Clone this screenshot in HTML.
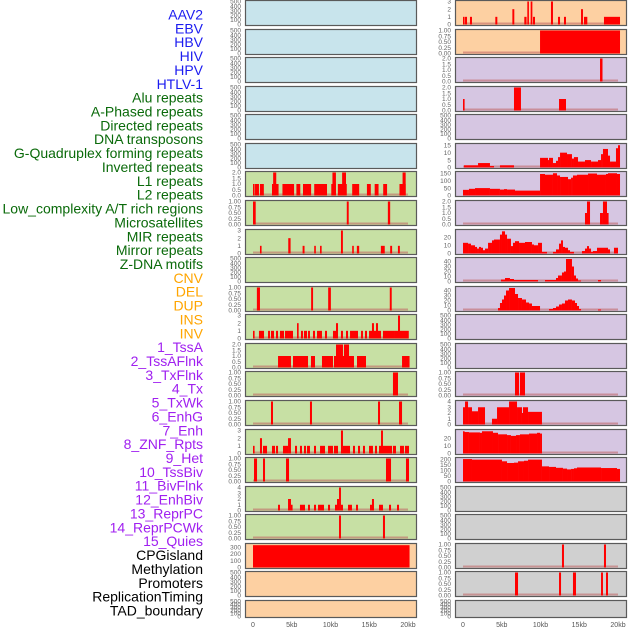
<!DOCTYPE html>
<html><head><meta charset="utf-8">
<style>
html,body{margin:0;padding:0;background:#fff;width:630px;height:630px;overflow:hidden}
svg{display:block;font-family:"Liberation Sans",sans-serif}
</style></head>
<body>
<svg id="chart" width="630" height="630"></svg>
<script>
// ---- data (kb positions, values) ----
const trackLabels=["AAV2","EBV","HBV","HIV","HPV","HTLV-1","Alu repeats","A-Phased repeats","Directed repeats","DNA transposons","G-Quadruplex forming repeats","Inverted repeats","L1 repeats","L2 repeats","Low_complexity A/T rich regions","Microsatellites","MIR repeats","Mirror repeats","Z-DNA motifs","CNV","DEL","DUP","INS","INV","1_TssA","2_TssAFlnk","3_TxFlnk","4_Tx","5_TxWk","6_EnhG","7_Enh","8_ZNF_Rpts","9_Het","10_TssBiv","11_BivFlnk","12_EnhBiv","13_ReprPC","14_ReprPCWk","15_Quies","CPGisland","Methylation","Promoters","ReplicationTiming","TAD_boundary"];
const labelGroups=[6,13,5,15,5];
const xTickValues=[0,5,10,15,20];
const xTickLabels=["0","5kb","10kb","15kb","20kb"];

const L6=[[0,0.15,1],[0.26,0.77,1],[0.9,1.4,1],[2.45,3.3,1],[2.6,3.0,2],[3.8,5.3,1],[5.6,6.1,1],[6.45,7.5,1],[7.9,9.55,1],[10.1,10.7,1],[10.25,10.7,2],[10.95,12.1,1],[11.5,12.0,2],[12.8,13.7,1],[14.7,15.2,1],[15.7,16.2,1],[16.8,17.3,1],[18.9,19.7,1],[19.3,19.7,2]];
const L7=[[0,0.35,1],[12.1,12.35,1],[17.4,17.7,1]];
const L8=[[0.9,1.1,1],[4.55,4.85,2],[6.4,6.65,1],[7.9,8.1,1],[8.65,8.85,1],[11.35,11.6,3],[12.8,13,1],[13.4,13.7,1],[16.5,17,1],[17.7,17.95,1],[18.7,18.95,1]];
const L10=[[0.5,0.9,1],[7.5,7.75,1],[9.7,10.05,1],[17.65,17.9,1]];
const L11=[[0,0.13,1],[0.77,1.42,1],[1.94,2.19,1],[2.32,2.71,1],[2.97,3.23,1],[3.48,4.0,1],[4.13,5.16,1],[5.68,5.89,2],[6.19,6.45,1],[6.58,6.97,1],[7.1,7.35,1],[7.74,8.0,1],[8.26,8.9,1],[9.29,9.55,1],[10.32,10.84,1],[10.71,10.97,2],[11.35,11.61,1],[12.0,12.26,1],[12.52,13.55,1],[13.94,14.19,1],[14.45,14.71,1],[14.97,16.52,1],[15.35,15.61,2],[15.87,16.13,2],[16.77,18.32,1],[18.32,20.1,1],[18.71,18.97,3]];
const L12=[[3.23,4.9,1],[5.16,7.1,1],[7.48,8.0,1],[8.9,10.32,1],[10.45,13.03,1],[10.71,11.61,2],[11.74,12.39,2],[13.42,14.58,1],[19.23,20.2,1]];
const L13=[[18.06,18.71,1]];
const L14=[[2.32,2.58,1],[7.35,7.61,1],[16.13,16.39,1],[18.84,19.23,1]];
const L15=[[0,0.13,1],[0.9,1.16,2],[1.29,1.81,1],[2.45,2.84,1],[2.97,3.23,1],[3.87,4.52,1],[4.52,4.9,2],[5.42,5.68,1],[6.06,6.32,1],[6.58,6.84,1],[6.97,7.35,1],[7.87,8.13,1],[8.65,9.29,1],[9.68,10.32,1],[10.45,10.97,1],[11.35,11.61,3],[11.61,12.52,1],[12.9,13.16,1],[13.55,13.81,1],[14.19,14.45,1],[14.97,15.48,1],[15.74,16.0,1],[16.26,17.94,1],[16.52,16.77,3],[18.06,18.45,1],[18.97,19.48,1],[19.61,20.13,1]];
const L16=[[0.13,0.52,1],[1.29,1.55,1],[4.26,4.65,1],[17.16,17.81,1],[19.74,20.13,1]];
const L17=[[3.23,3.48,1],[4.52,4.9,2],[4.9,5.1,1],[6.06,6.71,1],[7.1,7.35,1],[7.87,8.13,1],[8.39,9.16,1],[9.68,9.94,1],[10.58,10.84,1],[10.84,11.1,2],[11.1,11.35,4],[11.35,11.61,1],[12.26,12.77,1],[13.29,13.55,1],[15.1,15.35,1],[15.35,15.61,2],[16.26,16.77,1],[17.55,17.81,1],[18.58,18.84,1]];
const L18=[[11.1,11.35,1],[16.77,17.03,1]];
const L19=[[0,20.2,330]];

const R0=[[0,0.13,1],[0.26,0.52,1],[0.9,1.16,1],[4.17,4.43,1],[6.37,6.62,2],[7.91,8.2,1],[8.3,8.47,3],[8.73,8.95,3],[9.03,9.29,1],[11.35,11.61,3],[12.26,12.52,1],[13.03,13.29,1],[15.23,15.48,2],[15.61,16.04,1],[18.19,20.26,1]];
const R1=[[9.94,20.26,1]];
const R2=[[17.68,18.0,2]];
const R3=[[0,0.13,1],[6.58,7.48,2],[12.39,13.29,1]];
const R5_EDGES=[0.13,1.94,3.48,4.0,4.77,6.58,9.94,10.97,11.1,11.61,12.0,12.26,12.52,13.42,14.06,14.32,14.84,15.74,16.52,17.42,17.81,18.06,18.71,18.97,19.74,20.0,20.26];
const R5_VALS=[1.5,3,1,0,1.5,0,6.5,5,6.5,3,4.5,7,10,9,6,7,4,5,4,5,9,12.5,8,4,13,15];
const R6_EDGES=[0,0.77,1.55,3.48,4.77,5.29,5.68,6.71,9.94,10.58,11.61,12.13,12.52,13.55,13.94,14.19,14.71,16.13,17.29,18.45,18.71,19.87,20.26];
const R6_VALS=[38,45,50,45,40,43,40,33,145,140,150,135,125,110,120,135,140,148,140,145,150,145];
const R7=[[15.74,16.26,1],[16.0,16.39,2],[17.68,18.06,1],[18.06,18.58,2],[18.58,18.71,1]];
const R8_EDGES=[0,0.65,1.03,1.55,1.81,2.06,2.32,2.58,2.84,3.23,3.74,4.0,4.77,5.03,5.42,5.68,6.19,6.45,6.71,7.23,8.0,8.9,9.16,9.68,10.19,10.84,11.61,12.0,12.39,12.65,12.9,13.16,13.55,13.81,14.32,15.35,15.74,16.0,16.26,16.52,16.77,17.29,18.71,18.97,19.48,20.0];
const R8_VALS=[13,12,10,8,6,8,7,4,6,13,16,17,23,27,23,18,9,13,15,13,14,11,10,13,2,0,2,5,12,16,8,7,4,2,0,3,6,9,6,2,3,7,5,0,7];
const R9_EDGES=[4.9,5.42,6.06,6.58,9.68,10.58,12.0,12.26,12.77,13.03,13.29,14.06,14.32,14.58,14.84,15.23,17.42,17.81];
const R9_VALS=[4,7,5,3,0,3,7,12,18,20,45,30,12,6,2,0,3];
const R10_EDGES=[4.52,4.77,5.03,5.29,5.55,5.94,6.71,7.1,7.61,8.13,8.52,8.9,9.94,11.1,11.61,12.0,12.39,12.77,13.16,13.55,14.06,14.45,14.71,14.97,15.23,17.42,17.81];
const R10_VALS=[5,15,22,30,40,45,33,25,22,16,14,9,0,3,5,8,12,14,20,22,20,15,9,3,0,2];
const R13=[[6.71,7.23,1],[7.35,8.0,1]];
const R14_EDGES=[0,0.26,0.65,1.16,1.94,2.84,3.74,4.39,5.94,6.97,7.61,7.74,8.39,10.19];
const R14_VALS=[3,4,3,2.3,3,0,1,3,4,3,2,3,2.2];
const R15_EDGES=[0,0.13,0.77,2.19,2.45,3.87,4.52,5.68,6.19,6.84,7.35,8.52,9.55,9.94,10.19];
const R15_VALS=[29,28,27.5,27,29,27,25,24,23,24,25,26,27,26];
const R16_EDGES=[0,1.16,5.03,5.68,6.58,7.1,7.87,8.39,10.19,11.1,12.0,12.9,13.42,13.94,14.32,14.71,17.81,19.87,20.26];
const R16_VALS=[200,195,180,165,168,180,185,195,135,130,122,115,108,112,118,125,120,112];
const R19=[[12.77,13.03,1],[18.19,18.45,1]];
const R20=[[6.71,7.1,1],[12.39,12.65,1],[14.19,14.58,1],[17.81,18.06,1],[18.45,18.71,1]];

const T500=[0,100,200,300,400,500], T1=[0,0.25,0.5,0.75,1], T2=[0,0.5,1,1.5,2], T3=[0,1,2,3], T4=[0,1,2,3,4];
function edgesToSegs(e,v){const s=[];for(let i=0;i<v.length;i++)s.push([e[i],e[i+1],v[i]]);return s;}

const BLUE="#c8e4ec",GREEN="#c7e0a4",PEACH="#fdd0a2",PURP="#d6c6e2",GREY="#d0d0d0";
const leftPanels=[
 [null,T500,0,500,BLUE],[null,T500,0,500,BLUE],[null,T500,0,500,BLUE],[null,T500,0,500,BLUE],[null,T500,0,500,BLUE],[null,T500,0,500,BLUE],
 [L6,T2,1,2,GREEN],[L7,T1,2,1,GREEN],[L8,T3,0,3,GREEN],[null,T500,0,500,GREEN],[L10,T1,2,1,GREEN],[L11,T3,0,3,GREEN],[L12,T2,1,2,GREEN],
 [L13,T1,2,1,GREEN],[L14,T1,2,1,GREEN],[L15,T3,0,3,GREEN],[L16,T1,2,1,GREEN],[L17,T4,0,4,GREEN],[L18,T1,2,1,GREEN],
 [L19,[0,100,200,300],0,340,PEACH],[null,T500,0,500,PEACH],[null,T500,0,500,PEACH]];
const rightPanels=[
 [R0,T3,0,3,PEACH],[R1,T1,2,1,PEACH],[R2,T2,1,2,PURP],[R3,T2,1,2,PURP],[null,T500,0,500,PURP],
 [edgesToSegs(R5_EDGES,R5_VALS),[0,5,10,15],0,15.5,PURP],[edgesToSegs(R6_EDGES,R6_VALS),[0,50,100,150],0,155,PURP],
 [R7,T2,1,2,PURP],[edgesToSegs(R8_EDGES,R8_VALS),[0,10,20],0,28,PURP],[edgesToSegs(R9_EDGES,R9_VALS),[0,10,20,30,40],0,46,PURP],
 [edgesToSegs(R10_EDGES,R10_VALS),[0,10,20,30,40],0,46,PURP],[null,T500,0,500,PURP],[null,T500,0,500,PURP],[R13,T1,2,1,PURP],
 [edgesToSegs(R14_EDGES,R14_VALS),T4,0,4,PURP],[edgesToSegs(R15_EDGES,R15_VALS),[0,10,20],0,30,PURP],[edgesToSegs(R16_EDGES,R16_VALS),[0,50,100,150,200],0,205,PURP],
 [null,T500,0,500,GREY],[null,T500,0,500,GREY],[R19,T1,2,1,GREY],[R20,T1,2,1,GREY],[null,T500,0,500,GREY]];

const svg=document.getElementById('chart');
const NS="http://www.w3.org/2000/svg";
function mk(tag,attrs,parent){const e=document.createElementNS(NS,tag);for(const k in attrs)e.setAttribute(k,attrs[k]);(parent||svg).appendChild(e);return e;}

const groupColors=["#1c1cf0","#0a6a0a","#ffa500","#a020f0","#000000"];
let li=0;
labelGroups.forEach((n,g)=>{for(let k=0;k<n;k++){const t=mk('text',{x:203,y:15+li*13.86+4.5,'text-anchor':'end','font-size':14,fill:groupColors[g]});t.textContent=trackLabels[li];

li++;}});

function rowTop(i){return Math.round(i*28.57);}
function drawPanel(p,i,x0,col){
 const [segs,ticks,dec,ymax,fill]=p;
 const t=rowTop(i), h=(i===21)?17:25, w=171;
 const g=mk('g',{});
 
 
 mk('rect',{x:x0+0.5,y:t+0.5,width:w,height:h,fill:fill,stroke:'none'},g);
 const bottom=t+h-0.5, span=h-2;
 const xs=kb=>x0+8+kb*7.75;
 const ys=v=>bottom-v/ymax*span;
 if(segs){
  mk('rect',{x:xs(0),y:bottom-2,width:xs(20)-xs(0),height:2,fill:'#c06060',opacity:0.55},g);
  segs.forEach(s=>{if(s[2]<=0)return;const r=mk('rect',{x:xs(s[0]),y:ys(s[2]),width:Math.max(1.6,xs(s[1])-xs(s[0])),height:bottom-ys(s[2]),fill:'#ff0000'},g);
   
   });
 }
 ticks.forEach(v=>{const tx=mk('text',{x:x0-4,y:ys(v)+2.2,'text-anchor':'end','font-size':6.5,fill:'#666'},g);tx.textContent=v.toFixed(dec);});
 mk('rect',{x:x0+0.5,y:t+0.5,width:w,height:h,fill:'none',stroke:'#5a5a5a','stroke-width':1.2},g);
}
leftPanels.forEach((p,i)=>drawPanel(p,i,245,'left'));
rightPanels.forEach((p,i)=>drawPanel(p,i,455,'right'));

[245,455].forEach((x0,ai)=>{xTickValues.forEach((v,k)=>{const tx=mk('text',{x:x0+8+v*7.75,y:627,'text-anchor':'middle','font-size':7,fill:'#555'});tx.textContent=xTickLabels[k];
 
 });});
</script>
</body></html>
